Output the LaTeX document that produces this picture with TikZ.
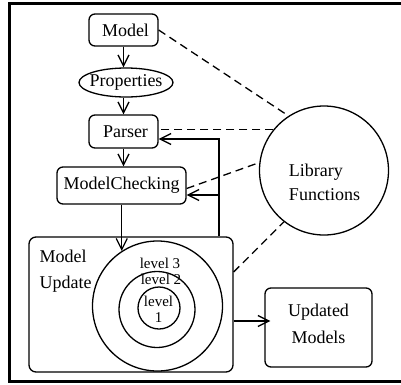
\documentclass[tikz,border=0pt]{standalone}
\usepackage{fontspec}
\setmainfont{Liberation Serif}
\usetikzlibrary{arrows.meta,shapes.geometric,calc}
\begin{document}
\begin{tikzpicture}[x=1bp,y=-1bp, line width=1.3bp,
  font=\fontsize{18bp}{22bp}\selectfont,
  box/.style={draw, rounded corners=6bp, inner sep=0pt},
  arr/.style={-{Straight Barb[length=11bp,width=11bp]}},
  dsh/.style={dash pattern=on 8bp off 5bp},
  small/.style={font=\fontsize{15bp}{16bp}\selectfont}]
\useasboundingbox (0,0) rectangle (401,385);
\draw[line width=3bp] (405,3) -- (9.5,3) -- (9.5,381) -- (405,381);

\node[box, minimum width=69bp, minimum height=32bp] (model) at (123.5,30) {\hspace*{4bp}Model};
\node[draw, ellipse, inner sep=0pt, minimum width=94bp, minimum height=29bp] (props) at (126,82.5) {\makebox[60bp]{Properties}};
\node[box, minimum width=69bp, minimum height=33bp] (parser) at (123.5,131.5) {\hspace*{4bp}Parser};
\node[box, minimum width=129bp, minimum height=37bp] (mc) at (121.5,185.5) {ModelChecking};

\node[box, rounded corners=7bp, minimum width=204bp, minimum height=135bp] (mu) at (131,304.5) {};
\node[anchor=base west, inner sep=0pt] (mut1) at (39,262) {Model};
\node[anchor=base west, inner sep=0pt] (mut2) at (39,288) {Update};

\node[draw, circle, minimum size=130bp, inner sep=0pt] (lv3) at (157.5,306) {};
\node[draw, circle, minimum size=76bp, inner sep=0pt] (lv2) at (157,309.5) {};
\node[draw, circle, minimum size=42bp, inner sep=0pt] (lv1) at (159,308) {};
\node[small, anchor=base, inner sep=0pt] (t3) at (160,268.5) {level 3};
\node[small, anchor=base, inner sep=0pt] (t2) at (161,284) {level 2};
\node[small, align=center, inner sep=0pt] (t1) at (158.5,309.5) {level\\1};

\node[draw, circle, minimum size=129bp, inner sep=0pt] (lib) at (324,170.5) {};
\node[align=left, inner sep=0pt, font=\fontsize{18bp}{23.3bp}\selectfont] (libtext) at (324.5,182.2) {Library\\Functions};

\node[box, minimum width=107bp, minimum height=79bp] (upd) at (318.5,327.5) {};
\node[align=center, inner sep=0pt, font=\fontsize{18bp}{26.3bp}\selectfont] (updtext) at (318.5,323.7) {Updated\\Models};

% main flow
\draw[arr] (model.south -| parser.south) -- (model.south |- props.north);
\draw[arr] (props.south -| parser.north) -- (parser.north);
\draw[arr] (parser.south) -- (parser.south |- mc.north);
\draw[arr] (lv3.123 |- mc.south) -- (lv3.123);

% feedback
\coordinate (fbtop) at (219,139);
\coordinate (fbmid) at (219,195);
\draw[arr] (mu.north -| fbtop) -- (fbtop) -- (fbtop -| parser.east);
\draw[arr] (fbmid) -- (fbmid -| mc.east);

% output
\coordinate (outy) at (0,321);
\draw[arr, shorten >=-6bp] (outy -| mu.east) -- (outy -| upd.west);

% library links
\draw[dsh] (model.east) -- (lib.123);
\draw[dsh] (lib.141) -- (lib.141 -| parser.east);
\draw[dsh] ($(mc.east)+(0,3)$) -- (lib.173);
\coordinate (muy) at (0,272);
\draw[dsh] (muy -| mu.east) -- (lib.232);
\end{tikzpicture}
\end{document}
